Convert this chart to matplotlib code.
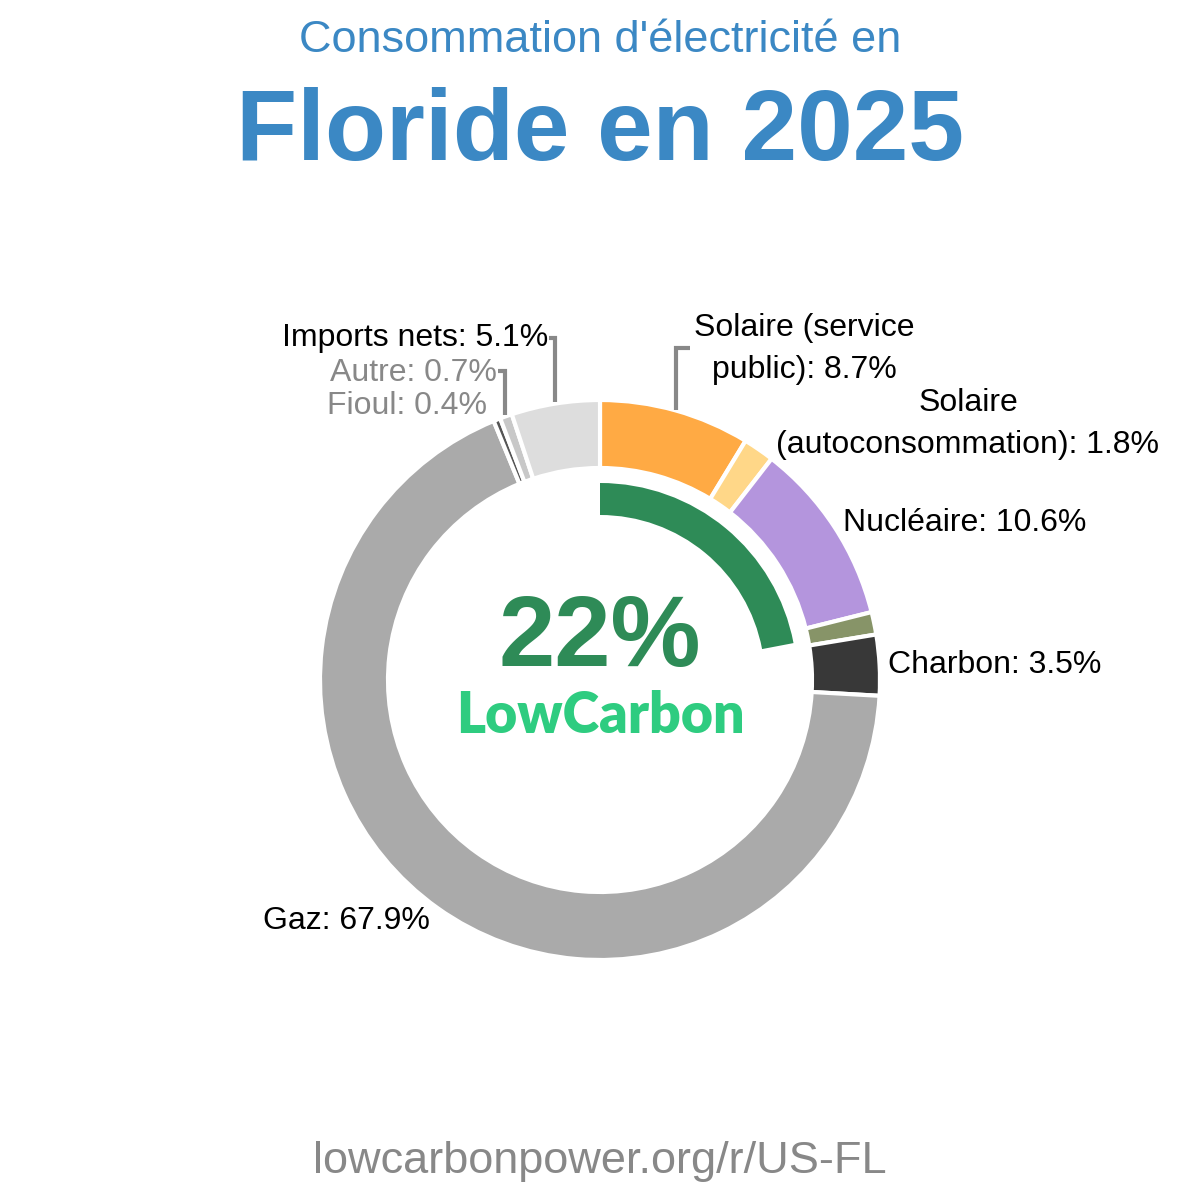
"""Florida 2025 electricity mix donut (lowcarbonpower style)."""

import matplotlib
matplotlib.use("Agg")
import matplotlib.pyplot as plt  # noqa: E402

# Slices, clockwise from 12 o'clock.
sources = ["Solaire (service public)", "Solaire (autoconsommation)", "Nucléaire",
           "Biomasse", "Charbon", "Gaz", "Fioul", "Autre", "Imports nets"]
shares = [8.7, 1.8, 10.6, 1.3, 3.5, 67.9, 0.4, 0.7, 5.1]
colors = ["#ffaa44", "#ffd788", "#b495dd", "#879468", "#383838",
          "#aaaaaa", "#555555", "#c8c8c8", "#dddddd"]

low_carbon_share = 22

_BLUE = "#3b88c4"
_GREEN = "#2e8b57"
_LC_GREEN = "#2ecc80"
_MUTED = "#888888"

H = 1200  # canvas height in px, used to flip image-style y coords


def y(v):
    return H - v


fig = plt.figure(figsize=(12, 12), dpi=100)
ax = fig.add_axes([0, 0, 1, 1])
ax.set_xlim(0, 1200)
ax.set_ylim(0, 1200)
ax.set_aspect("equal")
ax.axis("off")

cx, cy = 600, y(680)

ax.pie(shares, colors=colors, startangle=90, counterclock=False,
       center=(cx, cy), radius=280,
       wedgeprops=dict(width=68, edgecolor="white", linewidth=3))

# Inner low-carbon arc.
ax.pie([low_carbon_share, 100 - low_carbon_share], colors=[_GREEN, "none"],
       startangle=90, counterclock=False, center=(cx, cy), radius=197,
       wedgeprops=dict(width=32, edgecolor="none", linewidth=0))
ax.set_xlim(0, 1200)
ax.set_ylim(0, 1200)

# Titles
ax.text(600, y(41), "Consommation d'électricité en", ha="center", va="center",
        color=_BLUE, fontsize=32.5, family="Liberation Sans")
ax.text(600, y(134), "Floride en 2025", ha="center", va="center",
        color=_BLUE, fontsize=72, fontweight="bold", family="Liberation Sans")

# Centre
ax.text(600, y(640), f"{low_carbon_share}%", ha="center", va="center",
        color=_GREEN, fontsize=73, fontweight="bold", family="Liberation Sans")
ax.text(600, y(716), "LowCarbon", ha="center", va="center",
        color=_LC_GREEN, fontsize=40, fontweight="heavy", family="Lato")

lab = dict(fontsize=23, family="Liberation Sans", va="center")
ax.text(548, y(338), f"Imports nets: {shares[8]}%", ha="right", color="black", **lab)
ax.text(497, y(373), f"Autre: {shares[7]}%", ha="right", color=_MUTED, **lab)
ax.text(487, y(406), f"Fioul: {shares[6]}%", ha="right", color=_MUTED, **lab)
ax.text(804, y(349), f"Solaire (service\npublic): {shares[0]}%", ha="center",
        color="black", linespacing=1.55, **lab)
ax.text(968, y(424), f"Solaire\n(autoconsommation): {shares[1]}%", ha="center",
        color="black", linespacing=1.55, **lab)
ax.text(843, y(523), f"Nucléaire: {shares[2]}%", ha="left", color="black", **lab)
ax.text(888, y(665), f"Charbon: {shares[4]}%", ha="left", color="black", **lab)
ax.text(430, y(921), f"Gaz: {shares[5]}%", ha="right", color="black", **lab)

# Leader lines
line = dict(color=_MUTED, linewidth=3, solid_capstyle="butt", solid_joinstyle="miter")
ax.plot([549, 555, 555], [y(338), y(338), y(402)], **line)
ax.plot([498, 505, 505], [y(371), y(371), y(415)], **line)
ax.plot([690, 676, 676], [y(348), y(348), y(410)], **line)

ax.text(600, y(1162), "lowcarbonpower.org/r/US-FL", ha="center", va="center",
        color=_MUTED, fontsize=32.5, family="Liberation Sans")

fig.savefig("out.png", dpi=100, facecolor="white")
